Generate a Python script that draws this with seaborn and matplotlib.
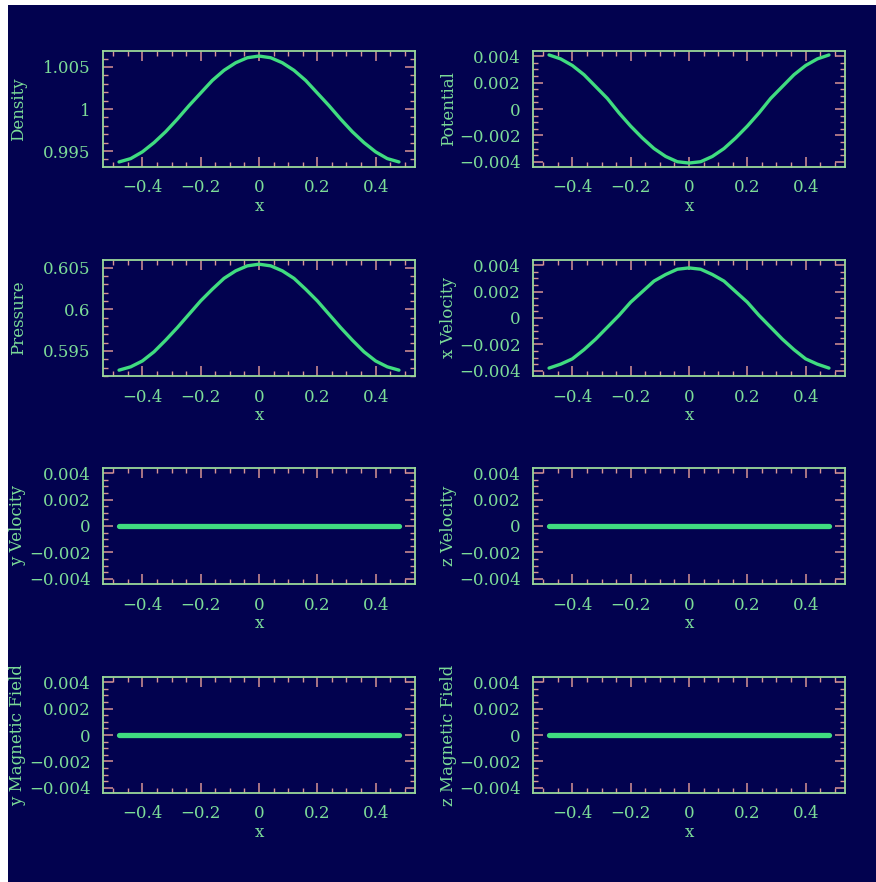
import seaborn as sns
import matplotlib.pyplot as plt
from matplotlib.patches import Rectangle
from matplotlib.ticker import MultipleLocator, AutoMinorLocator, FuncFormatter

# cell centres along x
x = [-0.48, -0.44, -0.40, -0.36, -0.32, -0.28, -0.24, -0.20, -0.16, -0.12, -0.08, -0.04, 0.0,
     0.04, 0.08, 0.12, 0.16, 0.20, 0.24, 0.28, 0.32, 0.36, 0.40, 0.44, 0.48]

density = [0.9937, 0.9941, 0.9949, 0.9960, 0.9973, 0.9988, 1.0004, 1.0019, 1.0034, 1.0046, 1.0055, 1.0061, 1.0063,
           1.0061, 1.0055, 1.0046, 1.0034, 1.0019, 1.0004, 0.9988, 0.9973, 0.9960, 0.9949, 0.9941, 0.9937]
potential = [0.0041, 0.0038, 0.0033, 0.0026, 0.0017, 0.0008, -0.0003, -0.0013, -0.0022, -0.0030, -0.0036, -0.0040, -0.0041,
             -0.0040, -0.0036, -0.0030, -0.0022, -0.0013, -0.0003, 0.0008, 0.0017, 0.0026, 0.0033, 0.0038, 0.0041]
pressure = [0.5927, 0.5931, 0.5938, 0.5949, 0.5963, 0.5978, 0.5994, 0.6010, 0.6024, 0.6037, 0.6046, 0.6052, 0.6054,
            0.6052, 0.6046, 0.6037, 0.6024, 0.6010, 0.5994, 0.5978, 0.5963, 0.5949, 0.5938, 0.5931, 0.5927]
x_velocity = [-0.0038, -0.0035, -0.0031, -0.0024, -0.0016, -0.0007, 0.0002, 0.0012, 0.0020, 0.0028, 0.0033, 0.0037, 0.0038,
              0.0037, 0.0033, 0.0028, 0.0020, 0.0012, 0.0002, -0.0007, -0.0016, -0.0024, -0.0031, -0.0035, -0.0038]
y_velocity = [0.0] * 25
z_velocity = [0.0] * 25
y_field = [0.0] * 25
z_field = [0.0] * 25

# (label, values, y limits, major step, minor divisions)
panels = [
    ("Density", density, (0.9931, 1.0069), 0.005, 5),
    ("Potential", potential, (-0.0044, 0.0044), 0.002, 4),
    ("Pressure", pressure, (0.5920, 0.6059), 0.005, 5),
    ("x Velocity", x_velocity, (-0.0044, 0.0044), 0.002, 4),
    ("y Velocity", y_velocity, (-0.0044, 0.0044), 0.002, 4),
    ("z Velocity", z_velocity, (-0.0044, 0.0044), 0.002, 4),
    ("y Magnetic Field", y_field, (-0.0044, 0.0044), 0.002, 4),
    ("z Magnetic Field", z_field, (-0.0044, 0.0044), 0.002, 4),
]

navy = '#02024f'
frame = '#9ad89a'
tickc = '#d89494'
textc = '#7cdc98'
curve = '#40dc80'

sns.set_style('ticks')
plt.rcParams['font.family'] = ['DejaVu Serif']

W, H = 876, 882
fig = plt.figure(figsize=(W / 100, H / 100), dpi=100, facecolor='white')
fig.patches.append(Rectangle((8 / W, 0), 1 - 8 / W, 1 - 5 / H, transform=fig.transFigure,
                             facecolor=navy, edgecolor='none', zorder=-1))

fmt = FuncFormatter(lambda v, p: ('%g' % round(v, 6)).replace('-', '\u2212'))
col_left = [103, 533]
row_top = [51, 260, 468, 677]

for i, (label, vals, ylim, step, nminor) in enumerate(panels):
    r, c = divmod(i, 2)
    ax = fig.add_axes([col_left[c] / W, 1 - (row_top[r] + 116) / H, 312 / W, 116 / H])
    ax.set_facecolor(navy)
    flat = max(vals) == min(vals)
    sns.lineplot(x=x, y=vals, ax=ax, color=curve, lw=3.8 if flat else 2.4)
    ax.set_xlim(-0.535, 0.535)
    ax.set_ylim(*ylim)
    ax.xaxis.set_major_locator(MultipleLocator(0.2))
    ax.xaxis.set_minor_locator(MultipleLocator(0.05))
    ax.yaxis.set_major_locator(MultipleLocator(step))
    ax.yaxis.set_minor_locator(AutoMinorLocator(nminor))
    ax.xaxis.set_major_formatter(fmt)
    ax.yaxis.set_major_formatter(fmt)
    for s in ax.spines.values():
        s.set_color(frame)
        s.set_linewidth(1.3)
    ax.tick_params(which='both', direction='in', top=True, right=True, color=tickc,
                   labelcolor=textc, labelsize=12, pad=9)
    ax.tick_params(which='major', length=7.5, width=1.1)
    ax.tick_params(which='minor', length=3.8, width=1.0)
    ax.set_xlabel('x', color=textc, fontsize=12)
    ax.set_ylabel(label, color=textc, fontsize=12)
    ax.xaxis.set_label_coords(0.5, -0.27)
    ax.yaxis.set_label_coords(-0.245, 0.5)

fig.savefig('out.png', dpi=100)
